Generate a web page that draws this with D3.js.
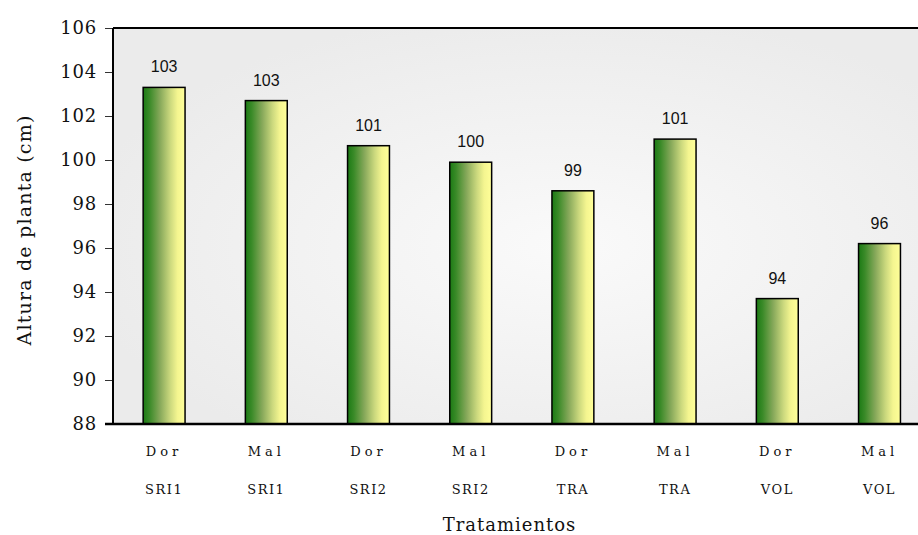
<!DOCTYPE html>
<html>
<head>
<meta charset="utf-8">
<script src="https://cdn.jsdelivr.net/npm/d3@7"></script>
<style>
  body { margin: 0; background: #fff; }
</style>
</head>
<body>
<div id="chart"></div>
<script>
// data
var variedad = ["Dor", "Mal", "Dor", "Mal", "Dor", "Mal", "Dor", "Mal"]
var sistema = ["SRI1", "SRI1", "SRI2", "SRI2", "TRA", "TRA", "VOL", "VOL"]
var altura = [103.3, 102.7, 100.65, 99.9, 98.6, 100.95, 93.7, 96.2]
var yTicks = [88, 90, 92, 94, 96, 98, 100, 102, 104, 106]

var dataset = altura.map(function(v, i) {
    return {id: i, var: variedad[i], sis: sistema[i], value: v}
})

var W = 918, H = 535
var margin = {top: 28, left: 113, bottom: 111}
var plotRight = 113 + 8 * 102.2

var svg = d3.select("#chart")
    .append("svg")
    .attr("width", W)
    .attr("height", H)

var defs = svg.append("defs")

// plot background, light in the middle
var bg = defs.append("radialGradient")
    .attr("id", "bgGrad")
    .attr("cx", "0.55").attr("cy", "0.55").attr("r", "0.6")
bg.append("stop").attr("offset", "0%").attr("stop-color", "#fafafa")
bg.append("stop").attr("offset", "100%").attr("stop-color", "#ebebeb")

// bar fill, green to yellow
var bar = defs.append("linearGradient")
    .attr("id", "barGrad")
    .attr("x1", "0").attr("x2", "1").attr("y1", "0").attr("y2", "0")
bar.append("stop").attr("offset", "0%").attr("stop-color", "#1b7a14")
bar.append("stop").attr("offset", "15%").attr("stop-color", "#3a8a28")
bar.append("stop").attr("offset", "40%").attr("stop-color", "#86a85a")
bar.append("stop").attr("offset", "65%").attr("stop-color", "#ccd97e")
bar.append("stop").attr("offset", "82%").attr("stop-color", "#f4f590")
bar.append("stop").attr("offset", "100%").attr("stop-color", "#ffff99")

var y = d3.scaleLinear()
    .domain([88, 106])
    .range([H - margin.bottom, margin.top])

var x = d3.scaleBand()
    .domain(dataset.map(d => d.id))
    .range([margin.left, plotRight])
    .paddingInner(0.59)
    .paddingOuter(0.295)

svg.append("rect")
    .attr("x", margin.left)
    .attr("y", margin.top)
    .attr("width", plotRight - margin.left)
    .attr("height", y(88) - margin.top)
    .attr("fill", "url(#bgGrad)")

// bars
svg.selectAll(".bar")
    .data(dataset)
    .enter()
    .append("rect")
    .attr("class", "bar")
    .attr("x", d => x(d.id))
    .attr("y", d => y(d.value))
    .attr("width", x.bandwidth())
    .attr("height", d => y(88) - y(d.value))
    .attr("fill", "url(#barGrad)")
    .attr("stroke", "#000")
    .attr("stroke-width", 1.5)

// value labels
svg.selectAll(".val")
    .data(dataset)
    .enter()
    .append("text")
    .attr("class", "val")
    .attr("x", d => x(d.id) + x.bandwidth() / 2)
    .attr("y", d => y(d.value) - 15)
    .attr("text-anchor", "middle")
    .style("font-family", "'Liberation Sans', Arial, sans-serif")
    .style("font-size", "16px")
    .attr("fill", "#111")
    .text(d => d3.format(".0f")(d.value))

// y axis
var yAxis = svg.append("g")
    .attr("transform", "translate(" + margin.left + ",0)")
    .call(d3.axisLeft(y).tickValues(yTicks).tickSize(8).tickPadding(8))
yAxis.select(".domain").remove()
yAxis.selectAll("line").attr("stroke", "#333").attr("stroke-width", 1)
yAxis.selectAll("text")
    .style("font-family", "'DejaVu Serif', serif")
    .style("font-size", "18px")
    .style("letter-spacing", "0.8px")
    .attr("fill", "#111")

// frame lines
svg.append("line")
    .attr("x1", margin.left).attr("x2", margin.left)
    .attr("y1", margin.top).attr("y2", y(88))
    .attr("stroke", "#000").attr("stroke-width", 2)
svg.append("line")
    .attr("x1", margin.left).attr("x2", W)
    .attr("y1", margin.top).attr("y2", margin.top)
    .attr("stroke", "#000").attr("stroke-width", 2)
svg.append("line")
    .attr("x1", margin.left - 8).attr("x2", W)
    .attr("y1", y(88)).attr("y2", y(88))
    .attr("stroke", "#000").attr("stroke-width", 2.5)

// x labels, two lines
var xl = svg.selectAll(".xl")
    .data(dataset)
    .enter()
    .append("g")
    .attr("transform", d => "translate(" + (x(d.id) + x.bandwidth() / 2) + ",0)")
xl.append("text")
    .attr("y", 456)
    .attr("text-anchor", "middle")
    .style("font-family", "'DejaVu Serif', serif")
    .style("font-size", "13px")
    .style("letter-spacing", "4px")
    .attr("fill", "#111")
    .text(d => d.var)
xl.append("text")
    .attr("y", 494)
    .attr("text-anchor", "middle")
    .style("font-family", "'DejaVu Serif', serif")
    .style("font-size", "13px")
    .style("letter-spacing", "1.5px")
    .attr("fill", "#111")
    .text(d => d.sis)

// axis titles
svg.append("text")
    .attr("x", (margin.left + W) / 2 - 6)
    .attr("y", 531)
    .attr("text-anchor", "middle")
    .style("font-family", "'DejaVu Serif', serif")
    .style("font-size", "18px")
    .style("letter-spacing", "1px")
    .attr("fill", "#111")
    .text("Tratamientos")

svg.append("text")
    .attr("transform", "translate(31," + 230 + ") rotate(-90)")
    .attr("text-anchor", "middle")
    .style("font-family", "'DejaVu Serif', serif")
    .style("font-size", "19px")
    .style("letter-spacing", "1.2px")
    .attr("fill", "#111")
    .text("Altura de planta (cm)")
</script>
</body>
</html>
